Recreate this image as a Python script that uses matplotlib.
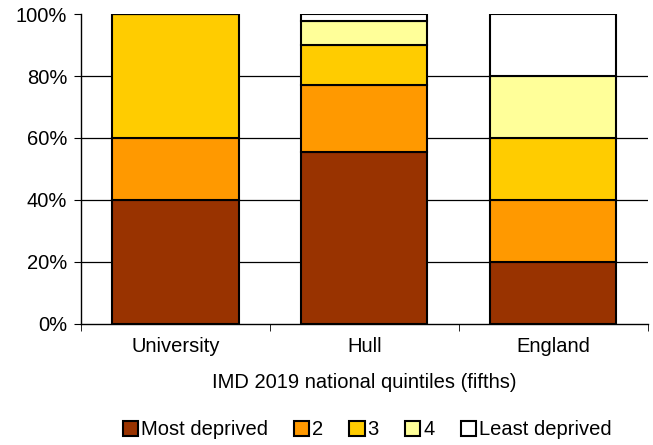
import matplotlib.pyplot as plt
import numpy as np

plt.rcParams['font.family'] = ['Liberation Sans', 'DejaVu Sans']

# Porcentaje por quintil IMD 2019
categories = ['University', 'Hull', 'England']
quintiles = ['Most deprived', '2', '3', '4', 'Least deprived']
most_deprived = [40.0, 55.4, 20.0]
q2 = [20.0, 21.6, 20.0]
q3 = [40.0, 13.0, 20.0]
q4 = [0.0, 7.8, 20.0]
least_deprived = [0.0, 2.2, 20.0]
colors = ['#993300', '#FF9900', '#FFCC00', '#FFFF99', '#FFFFFF']

series = [most_deprived, q2, q3, q4, least_deprived]

fig = plt.figure(figsize=(6.53, 4.45), dpi=100)
ax = fig.add_axes([0.124, 0.273, 0.868, 0.695])

x = np.arange(len(categories))
bottom = np.zeros(len(categories))
for name, vals, col in zip(quintiles, series, colors):
    ax.bar(x, vals, 0.668, bottom=bottom, color=col, edgecolor='black',
           linewidth=1.5, label=name, zorder=3)
    bottom += np.array(vals)

# Lineas horizontales de la cuadricula
for yv in [20, 40, 60, 80]:
    ax.axhline(yv, color='black', linewidth=0.9, zorder=1)

fs = 14.5
ax.set_xlim(-0.5, 2.5)
ax.set_ylim(0, 100)
ax.set_yticks([0, 20, 40, 60, 80, 100])
ax.set_yticklabels(['0%', '20%', '40%', '60%', '80%', '100%'], fontsize=fs)
ax.set_xticks(x)
ax.set_xticklabels(categories, fontsize=fs)
ax.tick_params(axis='x', which='major', length=0, pad=10)
ax.set_xticks([-0.5, 0.5, 1.5, 2.5], minor=True)
ax.tick_params(axis='x', which='minor', length=5, direction='out', color='black')
ax.tick_params(axis='y', length=5, direction='out', color='black', pad=5)
ax.spines['top'].set_visible(False)
ax.spines['right'].set_visible(False)
ax.spines['left'].set_linewidth(1.0)
ax.spines['bottom'].set_linewidth(1.0)

ax.set_xlabel('IMD 2019 national quintiles (fifths)', fontsize=fs, labelpad=12)

fig.legend(loc='center', bbox_to_anchor=(0.562, 0.034), ncol=5, frameon=False,
           fontsize=fs, handlelength=0.75, handleheight=0.75, handletextpad=0.15,
           columnspacing=1.3, borderpad=0)

fig.savefig('out.png', dpi=100)
